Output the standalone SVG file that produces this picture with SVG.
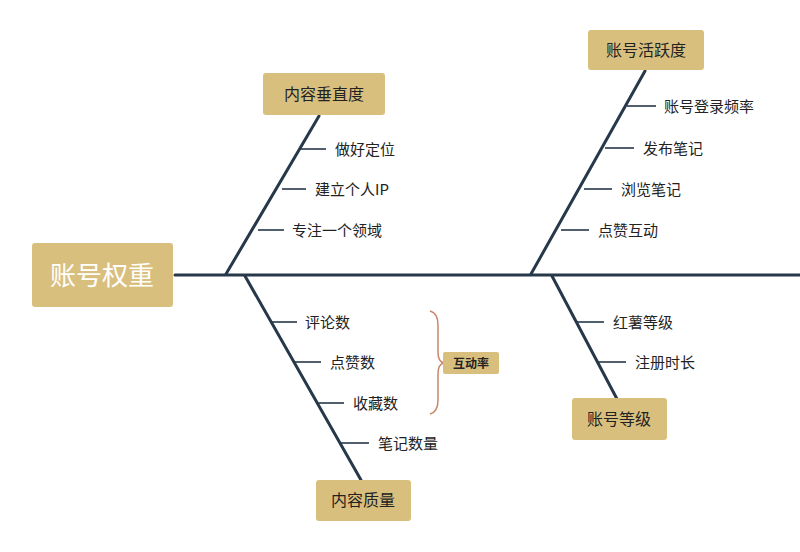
<svg xmlns="http://www.w3.org/2000/svg" width="800" height="552" viewBox="0 0 800 552">
<style>
.box{fill:#d9bf7e;}
.ln{stroke:#26384a;stroke-width:3;fill:none;stroke-linecap:round}
.sl{stroke:#26384a;stroke-width:1.6;fill:none}
.t{font-family:"Noto Sans CJK SC","Noto Sans",sans-serif;font-size:15px;fill:#222}
.bt{font-family:"Noto Sans CJK SC","Noto Sans",sans-serif;font-size:16px;fill:#222;text-anchor:middle}
</style>
<rect width="800" height="552" fill="#fff"/>
<g id="connectors">
<line class="ln" x1="175" y1="275" x2="800" y2="275"/>
<line class="ln" x1="226" y1="274" x2="319" y2="116"/>
<line class="ln" x1="531" y1="274" x2="645" y2="71"/>
<line class="ln" x1="245" y1="276" x2="361" y2="480"/>
<line class="ln" x1="552" y1="276" x2="617" y2="399"/>
<line class="sl" x1="300" y1="149" x2="326" y2="149"/>
<line class="sl" x1="282" y1="189" x2="306" y2="189"/>
<line class="sl" x1="258" y1="230" x2="284" y2="230"/>
<line class="sl" x1="627" y1="106" x2="656" y2="106"/>
<line class="sl" x1="605" y1="148" x2="634" y2="148"/>
<line class="sl" x1="584" y1="189" x2="612" y2="189"/>
<line class="sl" x1="561" y1="230" x2="589" y2="230"/>
<line class="sl" x1="271" y1="322" x2="297" y2="322"/>
<line class="sl" x1="293" y1="362" x2="321" y2="362"/>
<line class="sl" x1="317" y1="403" x2="344" y2="403"/>
<line class="sl" x1="340" y1="443" x2="369" y2="443"/>
<line class="sl" x1="576" y1="322" x2="604" y2="322"/>
<line class="sl" x1="597" y1="362" x2="626" y2="362"/>
<path d="M430 311 Q438 313 438 325 L438 352 Q438 362 444 363 Q438 364 438 374 L438 400 Q438 412 430 414" fill="none" stroke="#c7866a" stroke-width="1.5"/>
</g>
<g id="root"><rect class="box" x="32" y="243" width="141" height="64" rx="3"/><text x="102" y="285" font-family="Noto Sans CJK SC,sans-serif" font-size="26" fill="#fff" text-anchor="middle">账号权重</text></g>
<g id="n1"><rect class="box" x="263" y="73" width="122" height="42" rx="3"/><text class="bt" x="324" y="100">内容垂直度</text></g>
<g id="n2"><rect class="box" x="588" y="30" width="116" height="40" rx="3"/><text class="bt" x="646" y="56">账号活跃度</text></g>
<g id="n3"><rect class="box" x="572" y="398" width="95" height="42" rx="3"/><text class="bt" x="619" y="425">账号等级</text></g>
<g id="n4"><rect class="box" x="316" y="480" width="95" height="41" rx="3"/><text class="bt" x="363" y="506">内容质量</text></g>
<g id="n5"><rect class="box" x="443" y="352" width="56" height="22" rx="2"/><text x="471" y="368" font-family="Noto Sans CJK SC,sans-serif" font-size="12" font-weight="bold" fill="#222" text-anchor="middle">互动率</text></g>
<g id="labels">
<text class="t" x="335" y="155">做好定位</text>
<text class="t" x="315" y="195">建立个人IP</text>
<text class="t" x="292" y="236">专注一个领域</text>
<text class="t" x="664" y="112">账号登录频率</text>
<text class="t" x="643" y="154">发布笔记</text>
<text class="t" x="621" y="195">浏览笔记</text>
<text class="t" x="598" y="236">点赞互动</text>
<text class="t" x="305" y="328">评论数</text>
<text class="t" x="330" y="368">点赞数</text>
<text class="t" x="353" y="409">收藏数</text>
<text class="t" x="378" y="449">笔记数量</text>
<text class="t" x="613" y="328">红薯等级</text>
<text class="t" x="635" y="368">注册时长</text>
</g>
</svg>
